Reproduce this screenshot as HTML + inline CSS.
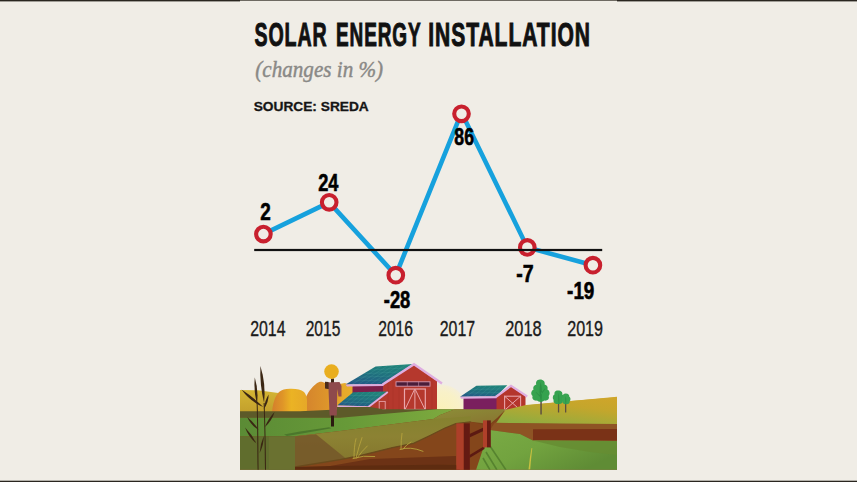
<!DOCTYPE html>
<html><head><meta charset="utf-8">
<style>
html,body{margin:0;padding:0;background:#f0ede6;}
body{width:857px;height:482px;overflow:hidden;position:relative;font-family:"Liberation Sans",sans-serif;}
svg{position:absolute;left:0;top:0;display:block;}
</style></head>
<body>
<svg width="857" height="482" viewBox="0 0 857 482">
<rect x="0" y="0" width="857" height="482" fill="#f0ede6"/>
<!-- top / bottom border lines -->
<rect x="0" y="0" width="240" height="1.4" fill="#2a2620"/>
<rect x="617" y="0" width="240" height="1.4" fill="#2a2620"/>
<rect x="240" y="0" width="377" height="1" fill="#6e6a62"/>
<rect x="0" y="480.7" width="857" height="1.3" fill="#2a2620"/>

<!-- title -->
<g font-family="Liberation Sans" font-weight="bold" font-size="32.5" fill="#111" stroke="#111" stroke-width="1.0" letter-spacing="1.5">
<text x="254.50" y="46.00" textLength="73.04" lengthAdjust="spacingAndGlyphs">SOLAR</text>
<text x="336.04" y="46.00" textLength="85.40" lengthAdjust="spacingAndGlyphs">ENERGY</text>
<text x="428.20" y="46.00" textLength="162.80" lengthAdjust="spacingAndGlyphs">INSTALLATION</text>
</g>
<text x="255.3" y="76.6" font-family="Liberation Serif" font-style="italic" font-size="23" fill="#8a8986" stroke="#8a8986" stroke-width="0.45" textLength="127.8" lengthAdjust="spacingAndGlyphs">(changes in %)</text>
<text x="253.68" y="111.00" font-family="Liberation Sans" font-weight="bold" font-size="12.6" fill="#151515" stroke="#151515" stroke-width="0.3" textLength="115.10" lengthAdjust="spacingAndGlyphs">SOURCE: SREDA</text>

<!-- chart -->
<g id="chart">
<polyline points="263.4,234.1 329.2,202.4 395.8,275.2 461.5,112.6 527.3,247.4 592.9,265.2" fill="none" stroke="#16a1dd" stroke-width="4.6" stroke-linejoin="miter"/>
<g fill="#f0ede6" stroke="#c8202e" stroke-width="4.1">
<circle cx="263.4" cy="234.1" r="7.3"/>
<circle cx="329.2" cy="202.3" r="7.3"/>
<circle cx="395.8" cy="275.2" r="7.3"/>
<circle cx="461.5" cy="113.8" r="7.3"/>
<circle cx="527.3" cy="247.4" r="7.3"/>
<circle cx="592.9" cy="265.2" r="7.3"/>
</g>
<rect x="254.2" y="248.9" width="348" height="2.2" fill="#111"/>
<g font-family="Liberation Sans" font-weight="bold" font-size="23.8" fill="#000" stroke="#000" stroke-width="0.6">
<text x="260.14" y="220.04" textLength="10.52" lengthAdjust="spacingAndGlyphs">2</text>
<text x="318.22" y="190.70" textLength="20.24" lengthAdjust="spacingAndGlyphs">24</text>
<text x="383.82" y="308.22" textLength="26.52" lengthAdjust="spacingAndGlyphs">-28</text>
<text x="454.34" y="145.20" textLength="19.62" lengthAdjust="spacingAndGlyphs">86</text>
<text x="516.32" y="281.88" textLength="17.40" lengthAdjust="spacingAndGlyphs">-7</text>
<text x="567.12" y="298.84" textLength="27.24" lengthAdjust="spacingAndGlyphs">-19</text>
</g>
<g font-family="Liberation Sans" font-size="21.2" fill="#1a1a1a" stroke="#1a1a1a" stroke-width="0.35">
<text x="250.18" y="335.94" textLength="35.36" lengthAdjust="spacingAndGlyphs">2014</text>
<text x="305.70" y="335.94" textLength="34.60" lengthAdjust="spacingAndGlyphs">2015</text>
<text x="378.20" y="335.94" textLength="34.84" lengthAdjust="spacingAndGlyphs">2016</text>
<text x="439.70" y="335.94" textLength="35.38" lengthAdjust="spacingAndGlyphs">2017</text>
<text x="505.20" y="335.94" textLength="36.38" lengthAdjust="spacingAndGlyphs">2018</text>
<text x="567.20" y="335.94" textLength="35.84" lengthAdjust="spacingAndGlyphs">2019</text>
</g>
</g>

<!-- illustration -->
<defs>
<clipPath id="ic"><rect x="240" y="340" width="377" height="129.8"/></clipPath>
<radialGradient id="glow" cx="0.5" cy="0.5" r="0.5">
<stop offset="0" stop-color="#fbf2b8"/><stop offset="0.7" stop-color="#f8f1c8"/><stop offset="0.93" stop-color="#f5efd6"/><stop offset="1" stop-color="#f0ede6" stop-opacity="0"/>
</radialGradient>
<linearGradient id="hay1" x1="0" y1="0" x2="1" y2="0">
<stop offset="0" stop-color="#d47f2c"/><stop offset="0.3" stop-color="#df9528"/><stop offset="0.55" stop-color="#ebb324"/><stop offset="1" stop-color="#e6a828"/>
</linearGradient>
<linearGradient id="hay2" x1="0" y1="0" x2="1" y2="0">
<stop offset="0" stop-color="#d4822d"/><stop offset="0.35" stop-color="#dd952b"/><stop offset="0.6" stop-color="#e6aa2a"/><stop offset="1" stop-color="#ebb42a"/>
</linearGradient>
<linearGradient id="lhill" x1="0" y1="0" x2="0" y2="1">
<stop offset="0" stop-color="#d4b534"/><stop offset="1" stop-color="#c29f2c"/>
</linearGradient>
<linearGradient id="rhill" x1="0" y1="0" x2="0" y2="1">
<stop offset="0" stop-color="#d0a82a"/><stop offset="0.6" stop-color="#c2a42c"/><stop offset="1" stop-color="#a4a436"/>
</linearGradient>
<linearGradient id="gfield" x1="0" y1="0" x2="1" y2="0">
<stop offset="0" stop-color="#5b8b35"/><stop offset="0.5" stop-color="#679a38"/><stop offset="1" stop-color="#7eaa3e"/>
</linearGradient>
<linearGradient id="solar" x1="0.7" y1="0" x2="0.3" y2="1">
<stop offset="0" stop-color="#21857a"/><stop offset="0.55" stop-color="#1f6f7e"/><stop offset="1" stop-color="#245a86"/>
</linearGradient>
<linearGradient id="rgreen" x1="0" y1="0" x2="1" y2="0.6">
<stop offset="0" stop-color="#7aab45"/><stop offset="0.5" stop-color="#72a33f"/><stop offset="1" stop-color="#5f8c35"/>
</linearGradient>
<linearGradient id="plat" x1="0.9" y1="0" x2="0.3" y2="1">
<stop offset="0" stop-color="#cfa52a"/><stop offset="0.35" stop-color="#c4a62c"/><stop offset="0.75" stop-color="#a4aa38"/><stop offset="1" stop-color="#8fac40"/>
</linearGradient>
<linearGradient id="olpl" x1="0" y1="0" x2="0.6" y2="1">
<stop offset="0" stop-color="#8c9238"/><stop offset="0.5" stop-color="#8a7f34"/><stop offset="1" stop-color="#8a6a2c"/>
</linearGradient>
<linearGradient id="olive" x1="0" y1="0" x2="0" y2="1">
<stop offset="0" stop-color="#85822f"/><stop offset="0.4" stop-color="#8c8233"/><stop offset="1" stop-color="#83742c"/>
</linearGradient>
</defs>
<g id="illus" clip-path="url(#ic)">
<!-- glow -->
<circle cx="441" cy="411" r="27.5" fill="url(#glow)"/>
<!-- ground base -->
<rect x="240" y="409.3" width="377" height="61" fill="#7b4419"/>
<!-- far hills -->
<polygon points="240,390 258,390.3 282,393.5 282,413 240,413" fill="url(#lhill)"/>
<polygon points="505,409 530,405 571,401 617,396.8 617,416 505,416" fill="url(#rhill)"/>
<!-- haystacks -->
<path d="M302.5,413 L304.5,401 C307,393 312,387 316.5,383.5 C318.5,382 320.5,381.5 322.5,382 C326,383 330,385 334,385 C338,384.5 341,383.5 345,383 L352,386 L372,400 L372,413 Z" fill="url(#hay2)"/>
<path d="M272,413 C272.5,404 275,396 279,392 C282,389.5 285,389 290,388.8 C296,388.6 301,389.5 304,392 C306,394 306.8,397 307,400 L307,413 Z" fill="url(#hay1)"/>

<!-- barn 2 -->
<g>
<polygon points="463.5,397.5 497,396.5 497,410 463.5,410" fill="#7a1f5e"/>
<polygon points="496.5,396.5 511,386.5 525.5,396 525.5,410.5 496.5,410.5" fill="#b4352c"/>
<polygon points="476.4,385.8 507.3,385.2 496.3,396.3 460.1,396.8" fill="url(#solar)"/>
<path d="M471.0,389.5 L503.6,388.9 M465.5,393.1 L500.0,392.6 M481.5,385.7 L466.1,396.7 M486.7,385.6 L472.2,396.6 M491.9,385.5 L478.2,396.6 M497.0,385.4 L484.2,396.5 M502.1,385.3 L490.3,396.4" stroke="#5fb8b0" stroke-width="0.5" opacity="0.35" fill="none"/>
<polygon points="460.1,396.8 496.3,396.3 496.5,398.2 461,398.7" fill="#dfaee0"/>
<polyline points="495.7,397 511,385.8 527.2,396.5" fill="none" stroke="#dfaee0" stroke-width="2.2"/>
<rect x="504.6" y="396.2" width="16" height="14" fill="none" stroke="#e7a3a8" stroke-width="1.1"/>
<path d="M504.6,396.2 L520.6,410.2 M520.6,396.2 L504.6,410.2" stroke="#e7a3a8" stroke-width="1"/>
</g>

<!-- barn 1 -->
<g>
<!-- lean-to wall (purple) -->
<polygon points="352.5,385 386,384.6 386,394 352.5,394" fill="#7b1f4a"/>
<!-- main red body -->
<polygon points="383,384 414,364.5 437,381 437,410 383,410" fill="#b5382d"/>
<g stroke="#a02f27" stroke-width="0.5" opacity="0.6"><path d="M388,380 V410 M393,377 V410 M399,373 V381 M399,387 V410 M432,378 V410 M427,374 V381"/></g>
<!-- lean-to red lower wall -->
<polygon points="366,406 387,392 387,410 366,410" fill="#b23a2e"/>
<!-- upper solar roof -->
<polygon points="375.6,366.4 412.7,363.9 383.3,383.9 345.5,384.6" fill="url(#solar)"/>
<path d="M369.6,370.0 L406.8,367.9 M363.6,373.7 L400.9,371.9 M357.5,377.3 L395.1,375.9 M351.5,381.0 L389.2,379.9 M381.8,366.0 L351.8,384.5 M388.0,365.6 L358.1,384.4 M394.1,365.1 L364.4,384.2 M400.3,364.7 L370.7,384.1 M406.5,364.3 L377.0,384.0" stroke="#5fb8b0" stroke-width="0.5" opacity="0.35" fill="none"/>
<polygon points="345.5,384.6 383.3,383.9 383.5,386 347,386.5" fill="#dcaadc"/>
<polyline points="382.6,384.6 414,364.2 442,383.5" fill="none" stroke="#dfaee0" stroke-width="2.4"/>
<!-- window -->
<rect x="396" y="381.8" width="34" height="4.4" fill="#4a1c38" stroke="#d89ab0" stroke-width="0.9"/>
<path d="M407.3,381.8 V386.2 M418.6,381.8 V386.2" stroke="#c58aa8" stroke-width="0.6"/>
<!-- door -->
<rect x="404.5" y="389" width="20.8" height="20.5" fill="none" stroke="#eaa6ab" stroke-width="1.2"/>
<path d="M405,409.5 L414.5,389.5 M415.3,389.5 L425,409.5 M414.9,389 L414.9,409.5" stroke="#eaa6ab" stroke-width="1"/>
<!-- lower solar roof -->
<polygon points="353.2,392.3 386.8,391.6 368.6,406.3 337.1,405.6" fill="url(#solar)"/>
<path d="M349.2,395.6 L382.2,395.3 M345.1,399.0 L377.7,399.0 M341.1,402.3 L373.2,402.6 M358.8,392.2 L342.4,405.7 M364.4,392.1 L347.6,405.8 M370.0,392.0 L352.9,406.0 M375.6,391.8 L358.1,406.1 M381.2,391.7 L363.4,406.2" stroke="#5fb8b0" stroke-width="0.5" opacity="0.35" fill="none"/>
<polygon points="337.1,405.6 368.6,406.3 368.6,408.2 338,407.8" fill="#dcaadc"/>
<line x1="368.3" y1="407" x2="387.8" y2="392" stroke="#dfaee0" stroke-width="1.8"/>
<!-- small door -->
<rect x="379.2" y="401.4" width="6" height="8.4" fill="none" stroke="#e6a0a6" stroke-width="0.9"/>
</g>

<!-- dark band -->
<polygon points="240,411.3 300,411.2 337,409.5 337,407 370,407 383,409.3 437,409.3 437,412 340,417.8 240,417.8" fill="#5d5a29"/>
<!-- green field left + strip -->
<polygon points="240,417.8 340,417.8 437,409.3 455,409.3 440,415 433.4,419 396,423.7 340,431.1 295,436.2 240,436.6" fill="url(#gfield)"/>
<!-- olive plateau near barn2 -->
<polygon points="433.4,419 440,415 455,409.3 506,409.3 497,418 490,424 470.7,421.8 455.8,423.7 437,431 414.7,438.6 430,425" fill="url(#olpl)"/>
<!-- left cliff face -->
<polygon points="240,436.6 295,436.2 295,470 240,470" fill="#606d2d"/>
<polygon points="269,436.4 295,436.2 295,470 269,470" fill="#6a7130"/>
<polygon points="284,434.5 300,431.5 329,427.2 331.5,428.3 302,433.6 287,436" fill="#4b772c"/>
<!-- middle cliff face -->
<polygon points="295,436.2 340,431.1 396,423.7 433.4,419 470.7,416.2 470.7,421.8 455.8,423.7 445,428 430,435.5 413.5,443.4 392.5,447.6 361,455.5 340,459.7 295,467" fill="url(#olive)"/>
<polygon points="295,436.2 316,434.3 348,460.3 295,467" fill="#76592a" opacity="0.9"/>
<!-- brown soil / path -->
<polygon points="295,467 340,459.7 361,455.5 392.5,447.6 413.5,443.4 430,435.5 445,428 455.8,423.7 470.7,421.8 488,426 497,420 505.5,409.8 512,409.5 500,420 492,430 480,470 295,470" fill="#84461b"/>
<polyline points="295,467 340,459.7 361,455.5 392.5,447.6 413.5,443.4 430,435.5 445,428 455.8,423.7 470.7,421.8" fill="none" stroke="#6a4a1c" stroke-width="1.3"/>
<polygon points="330,466 370,459 400,458 456,456 456,464.5 330,468" fill="#6c3215"/>
<polygon points="295,467 330,466 456,464.5 460,470 295,470" fill="#5e2c10"/>
<g fill="none" stroke="#b4a23c" stroke-width="0.9" stroke-linecap="round">
<path d="M354,458 Q354,446 356,438.7 M356,458 Q359,446 362,437.6 M357,458 Q362,451 367.3,446 M353,458.5 Q363,455 374.7,456.5"/>
<path d="M401,449 Q401,440 402,433.4 M400,449.5 Q410,446 423,451.3 M403,449 Q407,444 411,442"/>
</g>
<!-- right upper green plateau -->
<polygon points="505.3,410 526,405 571,401 617,397.3 617,424.5 496,423.3" fill="url(#plat)"/>
<!-- right brown channel -->
<polygon points="494.8,422.8 617,424 617,441 533,440.5 520,434 490,430" fill="#8e5424"/>
<polygon points="533,429.3 617,429 617,440.5 533,440" fill="#7a3217"/>
<!-- bottom right green -->
<polygon points="490,430 520,434 533,440.5 617,441 617,470 476,470 484,446" fill="url(#rgreen)"/>
<polygon points="533,440.5 617,441 617,455 590,452 560,447" fill="#668d33" opacity="0.85"/>
<g stroke="#4f7a2a" stroke-width="1.6" fill="none" opacity="0.8">
<path d="M490,446 L506,470 M486,452 L497,470 M483,458 L490,470"/>
</g>
<path d="M528.5,469.5 Q529.5,458 531.5,448 L532.3,448.3 Q531,459 530.2,469.5 Z" fill="#c8c040"/>

<!-- trees -->
<g>
<rect x="540.3" y="398" width="1.5" height="16.5" fill="#5e5040"/>
<path d="M540,379.6 C536.5,379.6 535.6,382.5 536.3,384.6 C533.4,385.6 532.6,388 533.6,389.6 C530.8,391 530.6,394.6 532.6,396 C531.6,398.6 533.6,401 537,400.6 C538.6,402.3 542.6,402.3 544.3,400.6 C547.8,401 549.8,398.6 548.6,396 C550.3,394.4 550,391 547.4,389.6 C548.3,387.6 547.3,385.4 544.6,384.6 C545.3,382.2 543.6,379.6 540,379.6 Z" fill="#36a24f"/>
<path d="M540.6,382 C539,388 539.4,396 540.8,402 L541.4,402 C542.2,396 542.4,388 540.6,382 Z M541,393 L545,388.5 L545.4,389 L541.4,394.5 Z M540.5,396 L536,392 L535.8,392.6 L540.3,397.2 Z" fill="#2a8a42" opacity="0.75"/>
<rect x="557.9" y="400" width="1.3" height="12.5" fill="#5e5040"/>
<path d="M558,390.5 C555,390.5 554,392.6 554.6,394.3 C552.6,395.3 552.2,398.6 553.6,400 C553,402.6 555.4,404.4 558.3,404 C560.8,404.5 563.3,403 563,400.6 C564.6,399.4 564.3,396 562.3,394.6 C562.8,392.4 561.3,390.5 558,390.5 Z" fill="#36a24f"/>
<rect x="565" y="401" width="1.3" height="11.5" fill="#5e5040"/>
<path d="M565.8,393.4 C563.4,393.4 562.4,395.2 562.9,396.6 C561.4,397.6 561.3,400.4 562.6,401.5 C562.4,403.4 564.2,404.6 566,404.2 C568,404.6 570,403.4 569.6,401.5 C571,400.2 570.7,397.6 569.2,396.6 C569.6,394.7 568.2,393.4 565.8,393.4 Z" fill="#3aa552"/>
<path d="M558.6,393 C557.8,397 558,401 558.7,404 L559.2,404 C559.6,401 559.6,397 558.6,393 Z M565.7,396 C565,399 565.2,402 565.6,404 L566.1,404 C566.5,402 566.4,399 565.7,396 Z" fill="#2a8a42" opacity="0.7"/>
</g>
<!-- fence -->
<g>
<polygon points="469.5,434 484.5,427 484.5,430.5 469.5,437.5" fill="#5c1a12"/>
<polygon points="469.5,455 484.5,446 484.5,449 469.5,458" fill="#5c1a12"/>
<rect x="483" y="420.4" width="4" height="27" fill="#b0402a"/>
<rect x="487" y="420.4" width="3.8" height="27" fill="#6a1c13"/>
<rect x="456.3" y="423.3" width="7.5" height="47" fill="#ad3f29"/>
<rect x="463.8" y="423.3" width="6" height="47" fill="#641a12"/>
</g>

<!-- reeds -->
<g fill="#3a2613">
<path d="M257.6,470 C257.2,450 257.4,425 256.6,402 L257.6,402 C258.4,425 258.4,450 258.6,470 Z"/>
<path d="M265.0,470 C264.8,450 264.6,430 263.6,403 L264.6,403 C265.5,430 265.9,450 266.0,470 Z"/>
<path d="M264.1,403.0 Q266.1,384.1 260.4,366.0 Q259.6,384.8 264.1,403.0 Z"/>
<path d="M256.9,404.0 Q258.8,390.5 254.8,377.4 Q253.5,390.9 256.9,404.0 Z"/>
<path d="M263.2,407.0 Q253.3,397.1 241.5,389.5 Q249.9,401.3 263.2,407.0 Z"/>
<path d="M263.8,409.0 Q268.7,402.6 268.6,394.5 Q264.6,401.2 263.8,409.0 Z"/>
<path d="M264.9,427.0 Q271.9,420.9 274.6,412.0 Q268.3,418.5 264.9,427.0 Z"/>
<path d="M258.6,430.0 Q254.1,422.5 247.2,417.0 Q250.8,425.3 258.6,430.0 Z"/>
<path d="M256.4,443.5 Q252.1,434.5 245.0,427.5 Q248.5,437.0 256.4,443.5 Z"/>
<path d="M259.6,453.0 Q263.8,445.0 263.8,436.0 Q260.2,444.1 259.6,453.0 Z"/>
</g>

<!-- scarecrow -->
<g>
<rect x="331" y="414" width="3" height="12.5" fill="#2b1a10"/>
<path d="M331,378.5 L334,378.5 L334,383.5 L331,383.5 Z" fill="#3a2414"/>
<path d="M325.5,382.5 L339.5,382 L341.5,386 L341.5,396.5 L338.5,396.5 L337.3,389 L336.8,415.5 L329.6,415.5 L328.5,389 L325.5,388 Z" fill="#8e4a4c"/>
<path d="M325,381.8 L328.6,382 L328.6,389 L325,388.5 Z" fill="#4a2a18"/>
<circle cx="331.5" cy="371.6" r="7.3" fill="#e9ae1f"/>
</g>
</g>
</svg>
</body></html>
